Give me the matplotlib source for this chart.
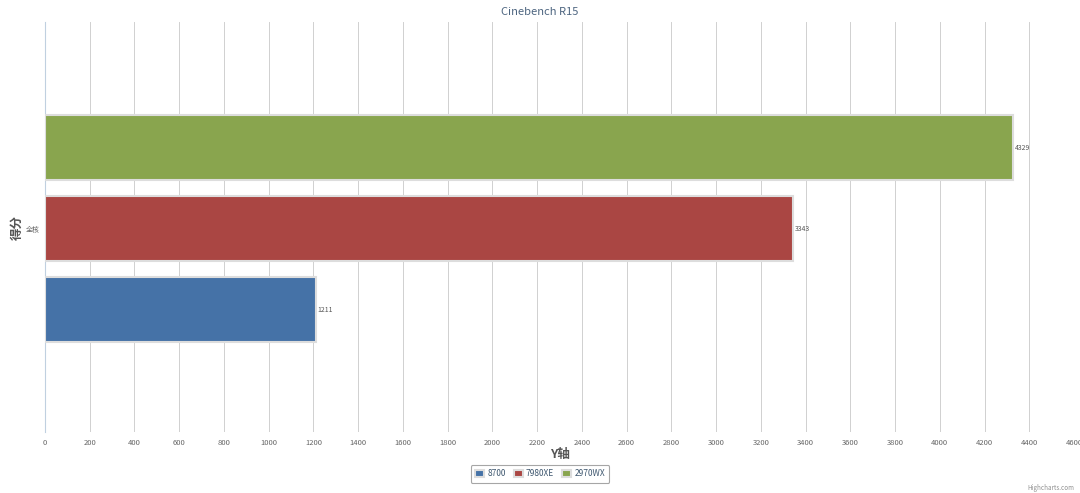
import numpy as np
import matplotlib.pyplot as plt

plt.rcParams['font.family'] = ['Noto Sans CJK SC', 'DejaVu Sans']

# 数据
categories = ['全核']
series_names = ['8700', '7980XE', '2970WX']
series_values = [1211, 3343, 4329]
series_colors = ['#4572A7', '#AA4643', '#89A54E']
x_ticks = list(range(0, 4601, 200))

fig = plt.figure(figsize=(10.8, 4.93), dpi=100)
ax = fig.add_axes([45 / 1080, 1 - 432 / 493, (1074 - 45) / 1080, (432 - 22) / 493])

ypos = [-1, 0, 1]
for y, v, c, n in zip(ypos, series_values, series_colors, series_names):
    ax.barh(y, v, height=0.8, color=c, edgecolor='#dddddd', linewidth=1.5, label=n, zorder=3)
    ax.text(v + 8, y, str(v), fontsize=5, color='#555555', va='center', ha='left', zorder=4)

ax.set_xlim(0, 4600)
ax.set_ylim(-2.51, 2.55)
ax.set_xticks(x_ticks)
ax.set_xticklabels([str(t) for t in x_ticks], fontsize=5.5, color='#666666')
ax.set_yticks([0])
ax.set_yticklabels(categories, fontsize=5, color='#666666')
ax.tick_params(axis='x', length=0, pad=5)
ax.tick_params(axis='y', length=0, pad=4)
ax.grid(axis='x', color='#d0d0d0', linewidth=0.7, zorder=0)

for s in ['top', 'right']:
    ax.spines[s].set_visible(False)
ax.spines['bottom'].set_visible(False)
ax.spines['left'].set_color('#c0d0e0')

ax.set_xlabel('Y轴', fontsize=9, fontweight='bold', color='#555555', labelpad=1)
ax.set_ylabel('得分', fontsize=9, fontweight='bold', color='#555555')
ax.yaxis.set_label_coords((24 - 45) / 1029, 0.5)
fig.text(0.5, 1 - 12 / 493, 'Cinebench R15', fontsize=8, color='#4d6580', ha='center', va='center')

leg = fig.legend(loc='center', bbox_to_anchor=(540 / 1080, 1 - 474 / 493), ncol=3, fontsize=6,
                 frameon=True, handlelength=1.1, handleheight=0.9, handletextpad=0.4,
                 columnspacing=0.9, borderpad=0.55, fancybox=True)
leg.get_frame().set_edgecolor('#909090')
leg.get_frame().set_linewidth(0.8)
for t in leg.get_texts():
    t.set_color('#3E576F')

fig.text(1074 / 1080, 1 - 488 / 493, 'Highcharts.com', fontsize=4.5, color='#909090', ha='right', va='center')

fig.savefig('out.png', dpi=100)
